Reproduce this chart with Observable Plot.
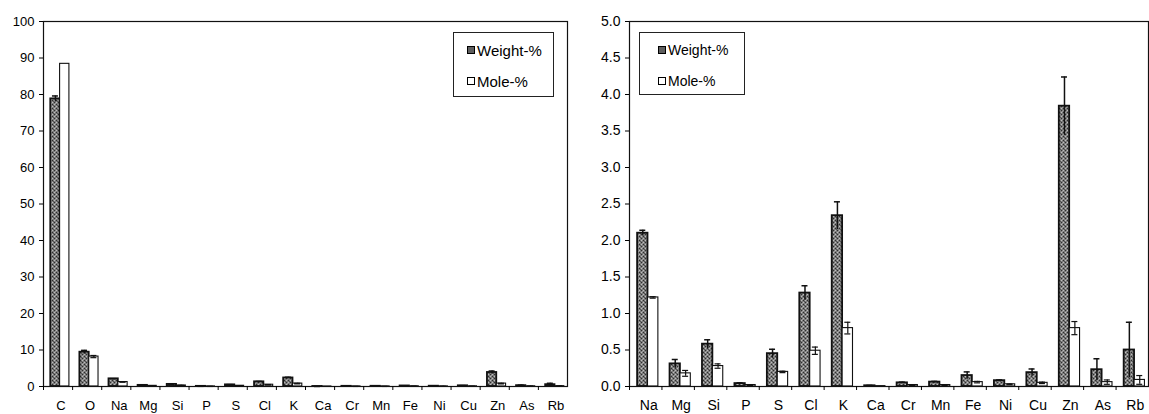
<!DOCTYPE html>
<html><head><meta charset="utf-8">
<script src="https://cdn.jsdelivr.net/npm/d3@7"></script>
<script src="https://cdn.jsdelivr.net/npm/@observablehq/plot@0.6"></script>
<style>
html,body{margin:0;padding:0;background:#fff;}
#wrap{position:relative;width:1149px;height:414px;display:flex;overflow:hidden;}
.legend{position:absolute;border:1px solid #222;background:#fff;font-family:"Liberation Sans",Arial,sans-serif;color:#000;box-sizing:border-box;}
.row{position:absolute;display:flex;align-items:center;white-space:nowrap;line-height:1;}
.sw{width:8px;height:8px;border:1px solid #000;box-sizing:border-box;margin-right:2px;}
.sw.w{background:#5e5e5e;}
.sw.m{background:#fff;}
</style></head><body>
<div id="wrap"></div>
<script>
// ---- data ----
const elements   = ["C","O","Na","Mg","Si","P","S","Cl","K","Ca","Cr","Mn","Fe","Ni","Cu","Zn","As","Rb"];
const weight     = [78.8, 9.4, 2.10, 0.31, 0.58, 0.04, 0.45, 1.28, 2.34, 0.01, 0.05, 0.06, 0.15, 0.08, 0.19, 3.84, 0.23, 0.50];
const weightErr  = [0.8, 0.5, 0.04, 0.06, 0.06, 0.01, 0.06, 0.10, 0.19, 0.005, 0.01, 0.01, 0.05, 0.01, 0.05, 0.40, 0.15, 0.38];
const mole       = [88.4, 8.2, 1.22, 0.18, 0.28, 0.02, 0.20, 0.49, 0.80, 0.005, 0.02, 0.02, 0.06, 0.03, 0.05, 0.80, 0.06, 0.09];
const moleErr    = [0, 0.3, 0.01, 0.04, 0.03, 0.005, 0.01, 0.05, 0.08, 0, 0.005, 0.005, 0.01, 0.005, 0.01, 0.09, 0.03, 0.06];
const leftTicks  = [0,10,20,30,40,50,60,70,80,90,100];
const rightTicks = [0,0.5,1,1.5,2,2.5,3,3.5,4,4.5,5];
const rightElements = elements.slice(2);
const seriesNames = ["Weight-%","Mole-%"];

function panel(els, w, ml, mr, yMax, yTicks, fmt, fontSize, pid) {
  const rows = els.map(e => { const i = elements.indexOf(e); return {el:e, w:weight[i], we:weightErr[i], m:mole[i], me:moleErr[i]}; });
  const bw = (w - ml - mr) / els.length;
  const L = 0.25*bw, B = 0.32*bw, R = bw - L - 2*B;
  const cap = 6;
  const wc = L + B/2, mc = L + B + B/2;
  const wErr = rows.filter(d => d.we > 0), mErr = rows.filter(d => d.me > 0);
  const svg = Plot.plot({
    width: w, height: 414, marginLeft: ml, marginRight: mr, marginTop: 21, marginBottom: 28,
    style: {fontFamily: "'Liberation Sans', Arial, sans-serif", fontSize: fontSize + "px", color: "#000", background: "#fff", overflow: "visible"},
    x: {type: "band", domain: els, paddingInner: 0, paddingOuter: 0, round: false, label: null},
    y: {domain: [0, yMax], label: null},
    marks: [
      Plot.barY(rows, {x: "el", y: "w", fill: `url(#${pid})`, stroke: "#111", strokeWidth: 1.8, insetLeft: L, insetRight: bw - L - B}),
      Plot.ruleX(wErr, {x: "el", y1: d => d.w - d.we, y2: d => d.w + d.we, dx: wc - bw/2, stroke: "#111", strokeWidth: 1.5}),
      Plot.tickY(wErr, {x: "el", y: d => d.w + d.we, insetLeft: wc - cap/2, insetRight: bw - wc - cap/2, stroke: "#111", strokeWidth: 1.5}),
      Plot.barY(rows, {x: "el", y: "m", fill: "#fff", stroke: "#111", strokeWidth: 1.1, insetLeft: L + B, insetRight: R}),
      Plot.ruleX(mErr, {x: "el", y1: d => d.m - d.me, y2: d => d.m + d.me, dx: mc - bw/2, stroke: "#111", strokeWidth: 1.2}),
      Plot.tickY(mErr, {x: "el", y: d => d.m + d.me, insetLeft: mc - cap/2, insetRight: bw - mc - cap/2, stroke: "#111", strokeWidth: 1.2}),
      Plot.tickY(mErr, {x: "el", y: d => d.m - d.me, insetLeft: mc - cap/2, insetRight: bw - mc - cap/2, stroke: "#111", strokeWidth: 1.2}),
      Plot.frame({stroke: "#111", strokeWidth: 1.2}),
      Plot.axisY({ticks: yTicks, tickFormat: fmt, tickSize: 4, tickPadding: 5, fontSize}),
      Plot.axisX({tickSize: 4, tickFormat: () => "", dx: -bw/2}),
      Plot.axisX({tickSize: 0, tickPadding: 14, dx: 3, fontSize})
    ]
  });
  const defs = d3.select(svg).insert("defs", ":first-child");
  const p = defs.append("pattern").attr("id", pid).attr("width", 4).attr("height", 4).attr("patternUnits", "userSpaceOnUse");
  p.append("rect").attr("width", 4).attr("height", 4).attr("fill", "#7c7c7c");
  [[0,0,"#2e2e2e"],[2,2,"#2e2e2e"],[2,0,"#bdbdbd"],[0,2,"#bdbdbd"],[1,1,"#555"],[3,3,"#9a9a9a"]].forEach(([x,y,c]) =>
    p.append("rect").attr("x", x).attr("y", y).attr("width", 1).attr("height", 1).attr("fill", c));
  return svg;
}

const wrap = document.getElementById("wrap");
wrap.appendChild(panel(elements, 575, 43, 8, 100, leftTicks, d3.format("d"), 13, "stipL"));
wrap.appendChild(panel(rightElements, 574, 54, 1, 5, rightTicks, d3.format(".1f"), 14, "stipR"));

function legend(left, top, w, h, swLeft, fs) {
  const box = document.createElement("div");
  box.className = "legend";
  Object.assign(box.style, {left: left + "px", top: top + "px", width: w + "px", height: h + "px", fontSize: fs + "px"});
  seriesNames.forEach((name, i) => {
    const r = document.createElement("div");
    r.className = "row";
    Object.assign(r.style, {left: swLeft + "px", top: (i === 0 ? 10 : 41) + "px", height: "14px"});
    const s = document.createElement("div");
    s.className = "sw " + (i === 0 ? "w" : "m");
    const t = document.createElement("span");
    t.textContent = name;
    r.appendChild(s); r.appendChild(t);
    box.appendChild(r);
  });
  wrap.appendChild(box);
}
legend(453, 32, 101, 65, 13, 15);
legend(639, 32, 106, 63, 18, 14);
</script>
</body></html>
